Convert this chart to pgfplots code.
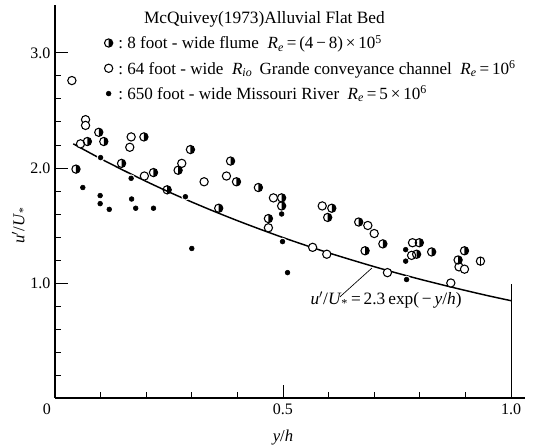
\documentclass[border=0pt]{standalone}
\usepackage{pgfplots}
\usepackage{pgfplotstable}
\pgfplotsset{compat=1.18}
\usepackage{fontspec}
\setmainfont{Liberation Serif}

\pgfdeclareplotmark{halfright}{%
  \pgfpathmoveto{\pgfqpoint{0pt}{\pgfplotmarksize}}%
  \pgfpatharc{90}{-90}{\pgfplotmarksize}%
  \pgfpathclose
  \pgfusepathqfill
  \pgfpathcircle{\pgfpointorigin}{\pgfplotmarksize}%
  \pgfusepathqstroke
}
\pgfdeclareplotmark{circbar}{%
  \pgfpathcircle{\pgfpointorigin}{\pgfplotmarksize}%
  \pgfusepathqstroke
  \pgfpathmoveto{\pgfqpoint{0pt}{\pgfplotmarksize}}%
  \pgfpathlineto{\pgfqpoint{0pt}{-\pgfplotmarksize}}%
  \pgfusepathqstroke
}

\pgfplotstableread{
x y
0.046 1.99
0.071 2.23
0.096 2.31
0.107 2.23
0.146 2.04
0.195 2.27
0.216 1.96
0.246 1.81
0.270 1.98
0.297 2.16
0.359 1.65
0.385 2.06
0.398 1.88
0.446 1.83
0.468 1.56
0.497 1.74
0.497 1.67
0.607 1.65
0.598 1.57
0.666 1.53
0.719 1.34
0.680 1.28
0.799 1.35
0.793 1.25
0.826 1.27
0.898 1.28
0.884 1.20
}\flume

\pgfplotstableread{
x y
0.037 2.76
0.067 2.42
0.067 2.37
0.056 2.21
0.167 2.27
0.164 2.18
0.196 1.93
0.278 2.04
0.327 1.88
0.376 1.93
0.479 1.74
0.468 1.48
0.586 1.67
0.565 1.31
0.596 1.25
0.686 1.50
0.700 1.43
0.729 1.09
0.784 1.35
0.782 1.24
0.868 1.00
0.886 1.14
0.898 1.12
}\riogrande

\pgfplotstableread{
x y
0.061 1.83
0.100 2.09
0.099 1.76
0.099 1.69
0.119 1.64
0.167 1.91
0.168 1.73
0.177 1.65
0.216 1.65
0.286 1.75
0.300 1.30
0.497 1.60
0.499 1.36
0.510 1.09
0.769 1.29
0.769 1.19
0.771 1.03
}\missouri

\pgfplotstableread{
x y
0.933 1.19
}\other

\pgfplotstableread{
x y
0.04 2.210
0.10 2.081
0.15 1.980
0.20 1.883
0.25 1.791
0.30 1.704
0.35 1.621
0.40 1.542
0.45 1.467
0.50 1.395
0.55 1.327
0.60 1.262
0.65 1.201
0.70 1.142
0.75 1.086
0.80 1.033
0.85 0.983
0.90 0.935
0.95 0.889
1.00 0.846
}\curve

\begin{document}
\begin{tikzpicture}
\begin{axis}[
  scale only axis,
  width=352.5pt, height=294.75pt,
  xmin=0, xmax=1.0307, ymin=0, ymax=3.417,
  axis lines=left,
  axis line style={-, line width=0.8pt},
  tick align=inside,
  xtick={0.5,1.0}, xticklabels={0.5,1.0},
  minor xtick={0.1,0.2,0.3,0.4,0.6,0.7,0.8,0.9},
  ytick={1,2,3}, yticklabels={1.0,2.0,3.0},
  minor ytick={0.2,0.4,0.6,0.8,1.2,1.4,1.6,1.8,2.2,2.4,2.6,2.8},
  major tick length=9.5pt, minor tick length=4.5pt,
  tick style={black, line width=0.7pt},
  /pgf/number format/assume math mode=true,
  ticklabel style={font=\fontsize{12}{14}\selectfont},
  xticklabel style={yshift=-1pt},
  clip=false,
  legend style={draw=none, fill=none, at={(axis cs:0.108,3.18)}, anchor=north west,
    font=\fontsize{12.8}{14}\selectfont, row sep=3.2pt, inner sep=0pt,
    cells={anchor=west}},
  legend image code/.code={\draw[#1] plot coordinates {(0.1cm,0cm)};},
  reverse legend,
]
\addplot[black, line width=1.1pt, smooth, forget plot] table {\curve};
\addplot[only marks, mark=*, mark size=2.7pt, white, forget plot] table {\missouri};
\addplot[only marks, mark=*, mark size=1.8pt, black] table {\missouri};
\addlegendentry{\,:\ 650 foot - wide Missouri River \ \textit{R}\textsubscript{\textit{e}}\,=\,5\,×\,10\textsuperscript{6}}
\addplot[only marks, mark=*, mark size=3.1pt, black, fill=white, line width=0.8pt] table {\riogrande};
\addlegendentry{\,:\ 64 foot - wide \ \textit{R\textsubscript{io}}\, Grande conveyance channel \ \textit{R}\textsubscript{\textit{e}}\,=\,10\textsuperscript{6}}
\addplot[only marks, mark=halfright, mark size=3.1pt, black, fill=black, line width=0.8pt, mark options={fill=black}] table {\flume};
\addlegendentry{\,:\ 8 foot - wide flume \ \textit{R}\textsubscript{\textit{e}}\,=\,(4\,−\,8)\,×\,10\textsuperscript{5}}
\addplot[only marks, mark=circbar, mark size=3.1pt, black, line width=0.8pt, forget plot] table {\other};
\draw[line width=0.7pt] (axis cs:1,0) -- (axis cs:1,0.99);
\draw[line width=0.5pt] (axis cs:0.625,0.88) -- (axis cs:0.695,1.13);
\node[anchor=west, font=\fontsize{13}{14}\selectfont] at (axis cs:0.55,0.85) {\textit{u}$'$/\textit{U}\textsubscript{*}\,=\,2.3\,exp(\,−\,\textit{y}/\textit{h})};
\node[anchor=west, font=\fontsize{13}{14}\selectfont] at (axis cs:0.185,3.29) {McQuivey(1973)Alluvial Flat Bed};
\node[font=\fontsize{12}{14}\selectfont] at (axis cs:-0.018,-0.10) {0};
\node[font=\fontsize{12.5}{14}\selectfont] at (axis cs:0.5,-0.34) {\textit{y}/\textit{h}};
\node[rotate=90, font=\fontsize{12.5}{14}\selectfont] at (axis cs:-0.078,1.5) {\textit{u}$'$/\textit{U}\textsubscript{*}};
\end{axis}
\pgfresetboundingbox
\path[use as bounding box] (-41.25pt,-36pt) rectangle (360.75pt,298.5pt);
\end{tikzpicture}
\end{document}
